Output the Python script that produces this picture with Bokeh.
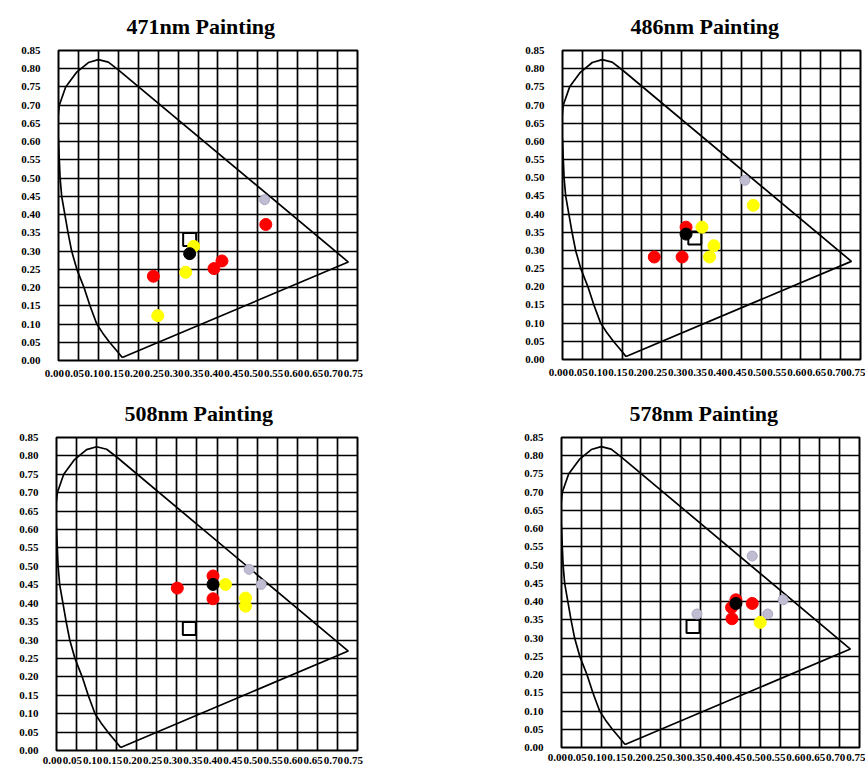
from bokeh.plotting import figure
from bokeh.layouts import column, row
from bokeh.models import FixedTicker, NumeralTickFormatter, Range1d
from bokeh.embed import file_html
from bokeh.resources import INLINE

# Chromaticity diagram outline (x, y) traced as a closed path
locus_x = [0.160, 0.145, 0.128, 0.111, 0.096, 0.079, 0.064, 0.046, 0.033, 0.024,
           0.016, 0.008, 0.004, 0.002, 0.000, -0.003, 0.002, 0.018, 0.045, 0.075,
           0.100, 0.125, 0.150, 0.727, 0.160]
locus_y = [0.008, 0.028, 0.050, 0.075, 0.100, 0.150, 0.200, 0.250, 0.300, 0.350,
           0.400, 0.450, 0.500, 0.550, 0.600, 0.650, 0.700, 0.750, 0.790, 0.817,
           0.825, 0.818, 0.797, 0.270, 0.008]

x_ticks = [0.00, 0.05, 0.10, 0.15, 0.20, 0.25, 0.30, 0.35, 0.40, 0.45, 0.50,
           0.55, 0.60, 0.65, 0.70, 0.75]
y_ticks = [0.00, 0.05, 0.10, 0.15, 0.20, 0.25, 0.30, 0.35, 0.40, 0.45, 0.50,
           0.55, 0.60, 0.65, 0.70, 0.75, 0.80, 0.85]
x_tick_labels = ["0.00", "0.05", "0.10", "0.15", "0.20", "0.25", "0.30", "0.35",
                 "0.40", "0.45", "0.50", "0.55", "0.60", "0.65", "0.70", "0.75"]

titles = ["471nm Painting", "486nm Painting", "508nm Painting", "578nm Painting"]

# 471 nm
red_x_471 = [0.520, 0.410, 0.390, 0.238]
red_y_471 = [0.373, 0.273, 0.252, 0.231]
yellow_x_471 = [0.339, 0.319, 0.249]
yellow_y_471 = [0.313, 0.242, 0.123]
gray_x_471 = [0.517]
gray_y_471 = [0.441]
black_x_471 = [0.329]
black_y_471 = [0.293]
white_x_471 = [0.329]
white_y_471 = [0.332]

# 486 nm
red_x_486 = [0.311, 0.301, 0.231]
red_y_486 = [0.364, 0.282, 0.282]
yellow_x_486 = [0.480, 0.351, 0.381, 0.370]
yellow_y_486 = [0.424, 0.364, 0.313, 0.282]
gray_x_486 = [0.459]
gray_y_486 = [0.493]
black_x_486 = [0.311]
black_y_486 = [0.345]
white_x_486 = [0.333]
white_y_486 = [0.334]

# 508 nm
red_x_508 = [0.390, 0.301, 0.390]
red_y_508 = [0.474, 0.441, 0.412]
yellow_x_508 = [0.421, 0.471, 0.471]
yellow_y_508 = [0.451, 0.414, 0.392]
gray_x_508 = [0.480, 0.510]
gray_y_508 = [0.492, 0.451]
black_x_508 = [0.390]
black_y_508 = [0.451]
white_x_508 = [0.331]
white_y_508 = [0.331]

# 578 nm
red_x_578 = [0.439, 0.428, 0.480, 0.429]
red_y_578 = [0.405, 0.384, 0.395, 0.353]
yellow_x_578 = [0.500]
yellow_y_578 = [0.343]
gray_x_578 = [0.480, 0.558, 0.519, 0.341]
gray_y_578 = [0.525, 0.405, 0.366, 0.366]
black_x_578 = [0.439]
black_y_578 = [0.395]
white_x_578 = [0.331]
white_y_578 = [0.332]

panels = [
    (red_x_471, red_y_471, yellow_x_471, yellow_y_471, gray_x_471, gray_y_471,
     black_x_471, black_y_471, white_x_471, white_y_471),
    (red_x_486, red_y_486, yellow_x_486, yellow_y_486, gray_x_486, gray_y_486,
     black_x_486, black_y_486, white_x_486, white_y_486),
    (red_x_508, red_y_508, yellow_x_508, yellow_y_508, gray_x_508, gray_y_508,
     black_x_508, black_y_508, white_x_508, white_y_508),
    (red_x_578, red_y_578, yellow_x_578, yellow_y_578, gray_x_578, gray_y_578,
     black_x_578, black_y_578, white_x_578, white_y_578),
]

# frame placement: (left, top, frame_w, frame_h, right, bottom, x label gap)
geometry = [
    (58, 50, 299, 310, 75, 23, 6),
    (130, 49, 298, 309, 5, 25, 6),
    (56, 52, 301, 313, 75, 18, 3),
    (129, 53, 298, 310, 6, 20, 3),
]

SERIF = "Liberation Serif"
# trailing no-break spaces set each x label a little left of its grid line
PAD = "\u00a0\u00a0\u00a0"


def make_panel(title, data, geo):
    rx, ry, yx, yy, gx, gy, bx, by, wx, wy = data
    left, top, fw, fh, right, bottom, xgap = geo
    p = figure(frame_width=fw, frame_height=fh,
               min_border_left=left, min_border_top=top,
               min_border_right=right, min_border_bottom=bottom,
               x_range=Range1d(0, 0.75), y_range=Range1d(0, 0.85),
               output_backend="svg", toolbar_location=None, tools="",
               background_fill_color="white", border_fill_color="white")
    p.title.text = title
    p.title.align = "left"
    p.title.offset = 68
    p.title.text_font = SERIF
    p.title.text_font_style = "bold"
    p.title.text_font_size = "22px"
    p.title.text_color = "black"
    p.title.standoff = 23

    p.outline_line_color = "black"
    p.outline_line_width = 2

    overrides = {t: lab + PAD for t, lab in zip(x_ticks, x_tick_labels)}
    if right < 20:
        # no room to the right: the last label is kept tight to the edge
        overrides[x_ticks[-1]] = x_tick_labels[-1]
    p.xaxis.ticker = FixedTicker(ticks=x_ticks)
    p.xaxis.major_label_overrides = overrides
    p.yaxis.ticker = FixedTicker(ticks=y_ticks)
    p.yaxis.formatter = NumeralTickFormatter(format="0.00")
    for ax in (p.xaxis, p.yaxis):
        ax.major_tick_out = 0
        ax.major_tick_in = 0
        ax.minor_tick_out = 0
        ax.minor_tick_in = 0
        ax.axis_line_color = None
        ax.major_label_text_font = SERIF
        ax.major_label_text_font_style = "bold"
        ax.major_label_text_color = "black"
        ax.major_label_text_font_size = "11px"
    p.yaxis.major_label_standoff = 18
    p.xaxis.major_label_standoff = xgap

    p.xgrid.ticker = FixedTicker(ticks=x_ticks)
    p.ygrid.ticker = FixedTicker(ticks=y_ticks)
    for g in (p.xgrid, p.ygrid):
        g.grid_line_color = "black"
        g.grid_line_width = 1.7
        g.grid_line_alpha = 1.0

    p.line(locus_x, locus_y, line_color="black", line_width=1.7)

    # reference white
    p.scatter(wx, wy, marker="square", size=13, fill_color="white",
              fill_alpha=0, line_color="black", line_width=2)
    p.scatter(gx, gy, marker="circle", size=10, fill_color="#c0bcd2",
              line_color="#aca8c0", line_width=1)
    p.scatter(yx, yy, marker="circle", size=12, fill_color="#ffff00",
              line_color="#ffff00", line_width=1)
    p.scatter(rx, ry, marker="circle", size=12, fill_color="#ff0000",
              line_color="#ff0000", line_width=1)
    p.scatter(bx, by, marker="circle", size=12, fill_color="black",
              line_color="black", line_width=1)
    return p


figs = [make_panel(t, d, g) for t, d, g in zip(titles, panels, geometry)]
layout = column(row(figs[0], figs[1]), row(figs[2], figs[3]))

open("out.html", "w").write(file_html(layout, INLINE))
